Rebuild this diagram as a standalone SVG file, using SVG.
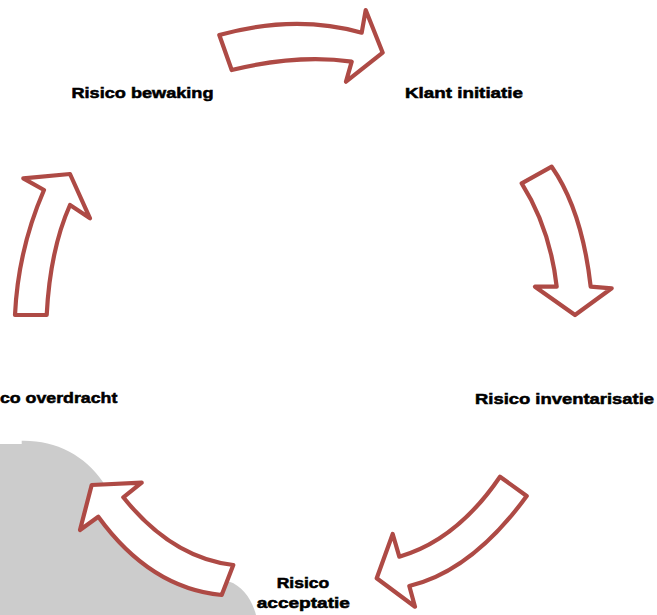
<svg xmlns="http://www.w3.org/2000/svg" width="657" height="615" viewBox="0 0 657 615">
<style>
.arrow{fill:#ffffff;stroke:#AE4A45;stroke-width:4.2;stroke-linejoin:round}
.lbl{font-family:"Liberation Sans",Arial,sans-serif;font-weight:bold;font-size:15.5px;fill:#000000;stroke:#000000;stroke-width:0.55}
</style>
<rect x="0" y="0" width="657" height="615" fill="#ffffff"/>
<path id="bg-shape" d="M0,444 L21.7,444 L21.7,440.7 C55,440 85,455 103,482 C115,515 160,560 233,583 C245,590 252,600 256,615 L0,615 Z" fill="#CCCCCC"/>
<g id="connectors">
<path id="arrow-top" class="arrow" d="M219.3,35 Q295,14 361.7,32.7 L365.7,10 L382.7,52.7 L346,81.7 L351.7,61.7 Q298,54 231.7,70 Z"/>
<path id="arrow-right" class="arrow" d="M521.7,183.3 L551.7,166.7 Q582,210 590.7,286.7 L611.7,288.3 L575,315 L535,286.7 L556.7,286.7 Q550,228 521.7,183.3 Z"/>
<path id="arrow-bottom-right" class="arrow" d="M500,476.7 L526.7,496 Q472,571 409.3,586 L415,606.7 L376.7,578.3 L392.7,534 L399.3,556.7 Q457,540 500,476.7 Z"/>
<path id="arrow-bottom-left" class="arrow" d="M233.3,565 L221.7,595 Q150,588 98.3,516.7 L80,530 L91.7,485 L141.7,482.7 L123.3,497.3 Q172,558 233.3,565 Z"/>
<path id="arrow-left" class="arrow" d="M15,315 L46.7,315 Q50,250 70,205 L90,218.3 L70,174 L23.3,178.3 L44,190 Q18,250 15,315 Z"/>
</g>
<g id="node-bewaking"><text class="lbl" x="71.5" y="97.7" textLength="142" lengthAdjust="spacingAndGlyphs">Risico bewaking</text></g>
<g id="node-klant"><text class="lbl" x="405" y="97.7" textLength="118" lengthAdjust="spacingAndGlyphs">Klant initiatie</text></g>
<g id="node-inventarisatie"><text class="lbl" x="475" y="404" textLength="179" lengthAdjust="spacingAndGlyphs">Risico inventarisatie</text></g>
<g id="node-acceptatie">
<text class="lbl" x="276.7" y="588.3" textLength="52.6" lengthAdjust="spacingAndGlyphs">Risico</text>
<text class="lbl" x="256.7" y="608.3" textLength="93.3" lengthAdjust="spacingAndGlyphs">acceptatie</text>
</g>
<g id="node-overdracht"><text class="lbl" x="0" y="403.3" textLength="117.3" lengthAdjust="spacingAndGlyphs">co overdracht</text></g>
</svg>
